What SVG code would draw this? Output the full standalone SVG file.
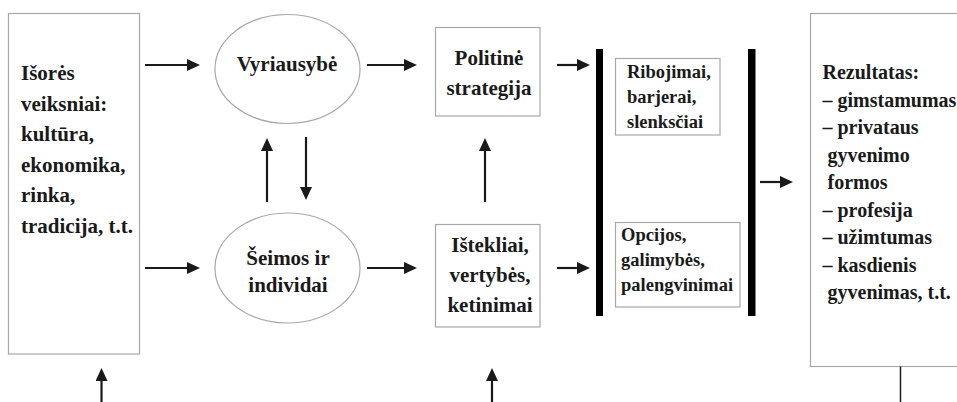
<svg xmlns="http://www.w3.org/2000/svg" width="957" height="402" viewBox="0 0 957 402">
<style>
.box{fill:#fff;stroke:#a8a8a8;stroke-width:1.2}
.bar{fill:#000}
text{font-family:'Liberation Serif','Times New Roman',Times,'DejaVu Serif',serif;font-weight:700;fill:#1a1a1a}
.m{font-size:21px}
.r{font-size:20px}
.s{font-size:18.5px}
.c{text-anchor:middle}
.ar{fill:none;stroke:#1a1a1a;stroke-width:2.2}
</style>
<defs>
<marker id="ah" markerUnits="userSpaceOnUse" markerWidth="14" markerHeight="12" refX="3" refY="6" orient="auto">
<path d="M0,0 L13,6 L0,12 Z" fill="#1a1a1a"/>
</marker>
</defs>
<rect width="957" height="402" fill="#fff"/>

<g id="isores" font-family="Liberation Serif, serif">
<rect class="box" x="8.5" y="13.5" width="131" height="340.5"/>
<text class="m" x="21" y="80">Išorės</text>
<text class="m" x="21" y="110.5">veiksniai:</text>
<text class="m" x="21" y="141">kultūra,</text>
<text class="m" x="21" y="171.5">ekonomika,</text>
<text class="m" x="21" y="202">rinka,</text>
<text class="m" x="21" y="232.5">tradicija, t.t.</text>
</g>

<g id="vyriausybe">
<ellipse class="box" cx="287.5" cy="69" rx="72.5" ry="54.5"/>
<text class="m c" x="287" y="71">Vyriausybė</text>
</g>

<g id="seimos">
<ellipse class="box" cx="287.5" cy="268" rx="72.5" ry="55"/>
<text class="m c" x="288" y="265">Šeimos ir</text>
<text class="m c" x="288" y="292">individai</text>
</g>

<g id="politine">
<rect class="box" x="435.5" y="27.5" width="104.5" height="88.5"/>
<text class="m c" x="489" y="65">Politinė</text>
<text class="m c" x="489" y="95">strategija</text>
</g>

<g id="istekliai">
<rect class="box" x="435.5" y="224.5" width="104.5" height="102.5"/>
<text class="m c" x="490" y="252">Ištekliai,</text>
<text class="m c" x="490" y="282">vertybės,</text>
<text class="m c" x="490" y="312">ketinimai</text>
</g>

<g id="bar1"><rect class="bar" x="596" y="49" width="7" height="267"/></g>

<g id="ribojimai">
<rect class="box" x="615.5" y="58.5" width="104.5" height="76.5"/>
<text class="s" x="627" y="78">Ribojimai,</text>
<text class="s" x="627" y="103">barjerai,</text>
<text class="s" x="627" y="128">slenksčiai</text>
</g>

<g id="opcijos">
<rect class="box" x="615.5" y="222.5" width="124.5" height="84.5"/>
<text class="s" x="621" y="241">Opcijos,</text>
<text class="s" x="621" y="266">galimybės,</text>
<text class="s" x="621" y="291">palengvinimai</text>
</g>

<g id="bar2"><rect class="bar" x="748" y="49" width="7.5" height="267"/></g>

<g id="rezultatas">
<rect class="box" x="810.5" y="13.5" width="200" height="353"/>
<text class="r" x="822.5" y="79">Rezultatas:</text>
<text class="r" x="822.5" y="106.5">– gimstamumas</text>
<text class="r" x="822.5" y="134">– privataus</text>
<text class="r" x="827.5" y="161.5">gyvenimo</text>
<text class="r" x="827.5" y="189">formos</text>
<text class="r" x="822.5" y="216.5">– profesija</text>
<text class="r" x="822.5" y="244">– užimtumas</text>
<text class="r" x="822.5" y="271.5">– kasdienis</text>
<text class="r" x="827.5" y="299">gyvenimas, t.t.</text>
</g>

<g id="connectors">
<path class="ar" marker-end="url(#ah)" d="M145,65 H190"/>
<path class="ar" marker-end="url(#ah)" d="M145,268 H190"/>
<path class="ar" marker-end="url(#ah)" d="M367,65 H407"/>
<path class="ar" marker-end="url(#ah)" d="M367,268 H407"/>
<path class="ar" marker-end="url(#ah)" d="M267,202 V148"/>
<path class="ar" marker-end="url(#ah)" d="M306,137 V190"/>
<path class="ar" marker-end="url(#ah)" d="M485,202 V148"/>
<path class="ar" marker-end="url(#ah)" d="M557,65 H580"/>
<path class="ar" marker-end="url(#ah)" d="M557,268 H580"/>
<path class="ar" marker-end="url(#ah)" d="M760,182 H783"/>
<path class="ar" marker-end="url(#ah)" d="M101.5,402 V378"/>
<path class="ar" marker-end="url(#ah)" d="M492,402 V378"/>
<path fill="none" stroke="#1a1a1a" stroke-width="1.5" d="M900.5,366.5 V402"/>
</g>
</svg>
